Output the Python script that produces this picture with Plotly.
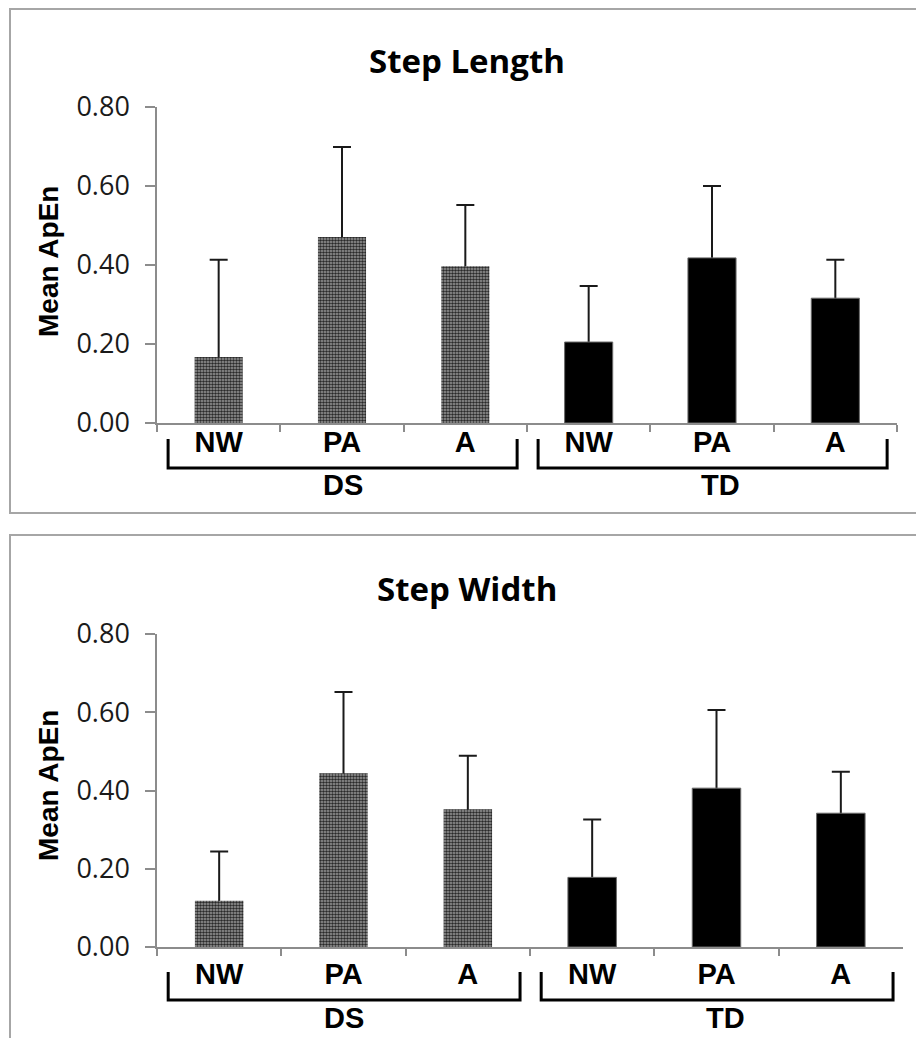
import plotly.graph_objects as go

# ---------------- data ----------------
categories = ["NW", "PA", "A"]
groups = ["DS", "TD"]

length_DS = [0.167, 0.471, 0.397]
length_DS_sd = [0.246, 0.228, 0.155]
length_TD = [0.205, 0.418, 0.316]
length_TD_sd = [0.142, 0.182, 0.097]

width_DS = [0.118, 0.444, 0.352]
width_DS_sd = [0.126, 0.208, 0.137]
width_TD = [0.178, 0.406, 0.342]
width_TD_sd = [0.148, 0.200, 0.106]

titles = ["Step Length", "Step Width"]
y_title = "Mean ApEn"
y_ticks = [0.0, 0.2, 0.4, 0.6, 0.8]

# ---------------- helpers ----------------
W, H = 924, 1038
OFF = 8  # page body margin


def px(x):
    return (x - OFF) / W


def py(y):
    return 1 - (y - OFF) / H


x_ids = [f"{g}|{c}" for g in groups for c in categories]
x_text = categories * len(groups)

TICK_FONT = dict(family="Open Sans, Lato, sans-serif", size=27, color="#1a1a1a")
BOLD_ARIAL = "Arial, Liberation Sans, sans-serif"
AXIS_GREY = "#8c8c8c"
BAR_W = 0.39
GROUP_LABEL_SHIFT = [0, 8]

fig = go.Figure()

panels = [
    dict(ds=length_DS, ds_sd=length_DS_sd, td=length_TD, td_sd=length_TD_sd,
         xa="x", ya="y", xdom=[px(157), px(897)], ydom=[py(423), py(107)],
         title_y=60, ytitle_y=262, br_top=439, br_bot=468, grp_y=485, standoff=-8),
    dict(ds=width_DS, ds_sd=width_DS_sd, td=width_TD, td_sd=width_TD_sd,
         xa="x2", ya="y2", xdom=[px(157), px(903)], ydom=[py(947), py(634)],
         title_y=588, ytitle_y=786, br_top=972, br_bot=1000, grp_y=1018, standoff=0),
]

shapes = []
annotations = []

for k, p in enumerate(panels):
    vals = p["ds"] + p["td"]
    sds = p["ds_sd"] + p["td_sd"]
    # hidden carrier of the (upper) error bars, drawn beneath the visible bars
    fig.add_trace(go.Bar(
        x=x_ids, y=vals, width=BAR_W, xaxis=p["xa"], yaxis=p["ya"],
        marker=dict(color="rgba(0,0,0,0)", line=dict(width=0)),
        showlegend=False, hoverinfo="skip",
        error_y=dict(type="data", symmetric=False, array=sds,
                     arrayminus=[0.012] * len(sds), color="#1a1a1a",
                     thickness=2, width=9),
    ))
    # DS bars: dithered grey
    fig.add_trace(go.Bar(
        x=x_ids[:3], y=p["ds"], width=BAR_W, xaxis=p["xa"], yaxis=p["ya"],
        name="DS", showlegend=False,
        marker=dict(color="#5a5a5a", line=dict(width=0),
                    pattern=dict(shape=".", size=3, solidity=0.55,
                                 fgcolor="#2a2a2a", bgcolor="#9c9c9c",
                                 fillmode="replace")),
    ))
    # TD bars: black
    fig.add_trace(go.Bar(
        x=x_ids[3:], y=p["td"], width=BAR_W, xaxis=p["xa"], yaxis=p["ya"],
        name="TD", showlegend=False,
        marker=dict(color="#000000", line=dict(width=1, color="#6a6a6a")),
    ))

    xkey = "xaxis" if k == 0 else "xaxis2"
    ykey = "yaxis" if k == 0 else "yaxis2"
    fig.update_layout(**{
        xkey: dict(domain=p["xdom"], anchor=p["ya"], type="category",
                   categoryorder="array", categoryarray=x_ids,
                   tickmode="array", tickvals=x_ids, ticktext=x_text,
                   tickson="boundaries", ticks="outside", ticklen=7,
                   tickwidth=1.5, tickcolor=AXIS_GREY,
                   showline=True, linecolor=AXIS_GREY, linewidth=1.5,
                   showgrid=False, zeroline=False, range=[-0.5, 5.5],
                   automargin=False,
                   ticklabelstandoff=p["standoff"],
                   tickfont=dict(family=BOLD_ARIAL, size=29, color="#000",
                                 weight="bold")),
        ykey: dict(domain=p["ydom"], anchor=p["xa"], range=[0, 0.8],
                   tickmode="array", tickvals=y_ticks, tickformat=".2f",
                   ticks="outside", ticklen=10, tickwidth=1.5,
                   tickcolor=AXIS_GREY, showline=True, linecolor=AXIS_GREY,
                   linewidth=1.5, showgrid=False, zeroline=False,
                   automargin=False,
                   ticklabelstandoff=10, tickfont=TICK_FONT),
    })

    # titles
    annotations.append(dict(text=titles[k], xref="paper", yref="paper",
                            x=px(467), y=py(p["title_y"]), xanchor="center",
                            yanchor="middle", showarrow=False,
                            font=dict(family="Open Sans, sans-serif", size=33,
                                      color="#000", weight="bold")))
    annotations.append(dict(text=y_title, xref="paper", yref="paper",
                            x=px(48), y=py(p["ytitle_y"]), xanchor="center",
                            yanchor="middle", textangle=-90, showarrow=False,
                            font=dict(family=BOLD_ARIAL, size=28, color="#000",
                                      weight="bold")))

    # group brackets + labels
    for gi, g in enumerate(groups):
        i0 = gi * len(categories)
        i1 = i0 + len(categories) - 1
        xa0 = i0 - 0.41
        xa1 = i1 + 0.42
        shapes.append(dict(
            type="path", xref=p["xa"], yref="paper",
            path=f"M {xa0},{py(p['br_top'])} L {xa0},{py(p['br_bot'])} "
                 f"L {xa1},{py(p['br_bot'])} L {xa1},{py(p['br_top'])}",
            line=dict(color="#000", width=3)))
        annotations.append(dict(text=g, xref=p["xa"], yref="paper",
                                x=(xa0 + xa1) / 2, y=py(p["grp_y"]),
                                xshift=GROUP_LABEL_SHIFT[gi],
                                xanchor="center", yanchor="middle",
                                showarrow=False,
                                font=dict(family=BOLD_ARIAL, size=29,
                                          color="#000", weight="bold")))

# outer frames
shapes.append(dict(type="rect", xref="paper", yref="paper",
                   x0=px(10), x1=1.02, y0=py(513), y1=py(9),
                   line=dict(color="#a6a6a6", width=2), layer="below"))
shapes.append(dict(type="rect", xref="paper", yref="paper",
                   x0=px(10), x1=1.02, y0=-0.05, y1=py(535),
                   line=dict(color="#a6a6a6", width=2), layer="below"))

fig.update_layout(
    template="none",
    width=W, height=H, autosize=False,
    margin=dict(l=0, r=0, t=0, b=0, autoexpand=False),
    paper_bgcolor="white", plot_bgcolor="rgba(0,0,0,0)",
    barmode="overlay", bargap=0.6,
    shapes=shapes, annotations=annotations, showlegend=False,
)

fig.write_html("out.html")
